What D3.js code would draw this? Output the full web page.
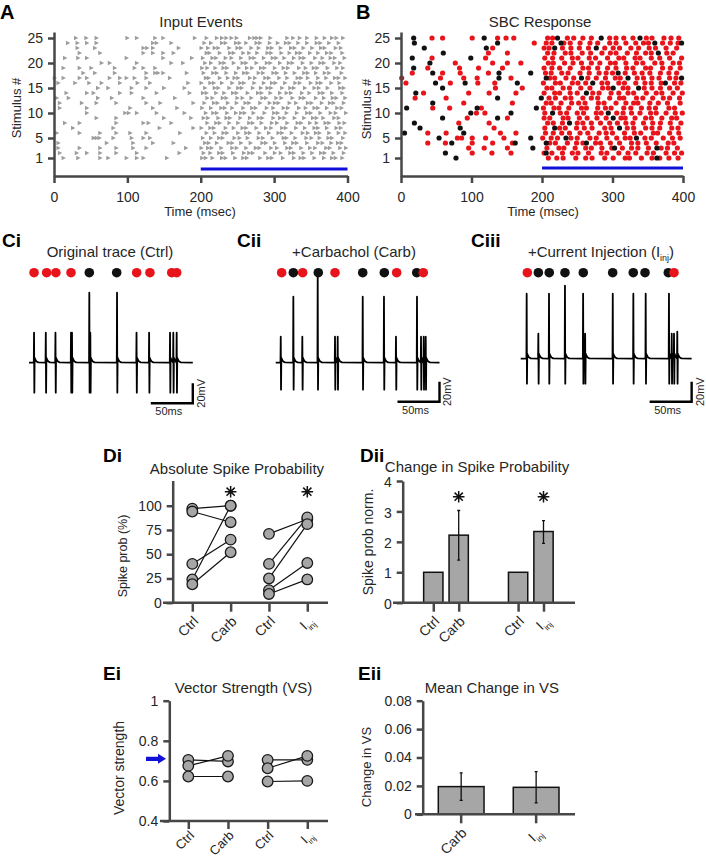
<!DOCTYPE html>
<html>
<head>
<meta charset="utf-8">
<script src="https://cdn.jsdelivr.net/npm/d3@7"></script>
<style>
  body { margin: 0; background: #fff; }
</style>
</head>
<body>
<svg id="fig" width="706" height="859"></svg>
<script>
// ---------- data ----------
const timeTicks = [0, 100, 200, 300, 400];
const stimTicks = [1, 5, 10, 15, 20, 25];
const stimWindow = [200, 400];

// A: input events (ms), one list per stimulus #1..25
const inputEvents = [
  [13,33,63,74,99,113,122,154,202,207,216,229,234,247,258,263,281,292,297,312,327,336,341,355,368,379,384,393],
  [8,31,45,63,85,113,171,204,213,225,230,244,259,266,271,288,301,309,322,327,340,352,364,369,381,395],
  [6,35,63,85,108,126,180,201,210,215,228,243,249,262,275,280,296,304,318,323,337,349,356,371,376,390,398],
  [6,72,108,135,163,206,211,222,238,243,255,268,284,289,301,315,326,331,345,360,366,378,387,392],
  [54,58,62,81,106,122,131,203,214,225,230,246,253,264,279,285,298,313,317,329,344,351,362,374,379,394],
  [4,35,63,85,104,126,172,208,219,231,236,251,262,267,280,293,306,311,324,339,346,357,362,375,388,397],
  [26,81,144,190,201,213,218,234,245,257,262,276,289,296,311,316,330,342,355,360,372,385,391],
  [15,35,85,122,129,160,209,221,226,239,251,266,271,283,297,304,318,332,337,349,358,370,375,389,396],
  [58,85,150,187,204,210,224,235,240,254,267,279,284,299,308,314,328,341,353,358,367,382,388],
  [45,97,102,113,140,178,207,217,222,236,248,255,260,272,287,300,305,317,331,345,350,363,377,384,398],
  [8,45,104,135,168,202,214,228,233,243,258,270,275,290,299,313,319,334,343,355,360,372,386,392],
  [8,38,58,85,126,145,190,205,218,223,237,249,261,266,281,294,301,306,321,330,346,351,365,376,381,395],
  [4,20,60,79,122,165,209,216,230,235,250,257,269,284,289,303,310,325,336,341,357,368,380,385,397],
  [17,45,54,90,106,140,185,203,208,221,232,244,249,264,278,283,295,308,317,323,338,348,362,367,379,393],
  [60,74,106,126,150,178,206,219,224,239,251,256,271,282,291,296,311,322,327,342,355,361,373,390,395],
  [6,29,48,65,90,114,131,183,201,213,218,229,243,254,259,273,286,297,302,315,329,335,350,359,364,378,389],
  [1,13,35,45,76,90,99,110,126,158,207,211,226,237,246,251,267,274,288,293,307,318,332,337,346,360,371,383,388,397],
  [40,56,83,126,138,142,149,181,204,217,222,235,248,259,264,279,285,299,304,316,328,341,346,357,369,375,392],
  [13,35,51,83,110,122,138,202,209,220,231,236,252,263,270,282,287,301,313,319,334,343,354,359,373,386,394],
  [65,76,113,160,176,206,214,227,232,245,257,262,276,290,295,308,320,325,339,351,363,368,382,390],
  [15,33,45,99,149,188,203,216,221,234,242,255,268,273,286,298,303,314,327,336,341,356,366,377,383,396],
  [35,63,122,135,149,163,208,212,226,240,245,258,266,277,291,296,310,321,331,336,349,360,372,378,393],
  [32,56,122,127,135,170,201,210,219,224,239,250,255,269,279,292,297,309,323,328,340,352,364,369,384,391],
  [19,32,45,58,135,140,160,205,214,229,234,248,253,262,276,281,294,305,316,321,333,345,358,363,375,388],
  [30,44,58,100,113,138,149,192,208,222,229,235,242,249,267,273,277,282,295,318,326,335,345,358,369,379,385,394]
];

// B: SBC response times (ms) per stimulus, red and black markers
const respRed = [
  [209,221,230,248,262,271,289,301,318,324,341,356,367,380,393],
  [101,129,156,203,214,229,243,251,266,284,292,309,322,333,349,358,376,388,398],
  [96,118,151,207,224,231,247,262,270,285,299,314,327,336,351,369,378,392],
  [38,63,101,130,158,211,219,236,249,258,276,283,297,310,327,336,348,362,379,387],
  [80,86,101,120,146,201,213,222,241,250,268,277,292,306,318,325,346,355,372,385,396],
  [38,64,141,163,205,216,228,239,254,265,281,291,300,317,331,340,358,364,381,394],
  [132,204,225,233,249,260,271,289,298,321,330,347,356,367,384,393],
  [82,125,208,216,229,250,258,270,283,296,307,319,329,344,357,368,382,397],
  [94,151,203,211,230,237,253,264,278,291,312,318,332,347,355,370,384,391],
  [107,119,204,226,235,250,259,277,284,306,315,327,339,354,362,376,389,399],
  [45,69,114,202,217,224,238,256,263,279,290,298,316,326,341,352,361,380,388],
  [89,158,206,213,227,242,252,261,280,288,305,319,330,336,353,365,378,396],
  [20,64,210,219,233,241,258,270,279,296,310,316,334,343,357,372,381,395],
  [32,96,125,163,203,218,225,240,250,272,281,298,309,322,330,348,362,370,386,399],
  [134,172,207,214,230,239,255,268,286,294,315,322,345,356,368,381,392],
  [7,70,109,133,202,219,226,243,251,262,285,293,309,317,333,346,355,369,388,397],
  [1,56,89,108,156,211,218,234,245,265,277,290,304,311,335,344,356,366,381,390],
  [16,59,84,124,205,213,228,237,254,267,281,291,300,318,331,342,353,368,380,391],
  [38,83,110,144,203,214,225,240,258,266,279,293,305,320,329,347,354,371,382,396],
  [77,130,151,170,209,216,232,244,256,270,282,297,304,319,334,343,360,370,386,395],
  [44,120,204,215,228,243,251,267,276,293,309,316,332,339,355,367,381,398],
  [124,151,208,217,233,241,257,269,285,297,305,321,334,347,355,377,386],
  [130,203,210,229,241,253,266,289,301,310,326,337,352,361,376,391],
  [189,206,214,231,240,254,268,279,296,305,319,333,344,351,371,382,393],
  [44,59,101,137,149,160,208,215,236,245,258,270,296,305,316,329,348,356,373,383,394]
];
const respBlack = [
  [78,363], [63,206], [187,303,363], [72,162,206,263], [54,184,234,334],
  [5,89], [27,84,218,310], [19,239], [59,137,301], [99,156,215,294],
  [8,108,192], [45], [137,199], [21,263], [59,301,337],
  [49,91,165,272,375], [139,206,256,322,398], [45,139,184,308], [18], [41],
  [16,99], [60,365], [33,121,218,277], [19,137,227,360,398], [18,118,222,284,339]
];

// C: example traces (ms, mV above baseline)
const ctrlSpikeT   = [6, 20, 31.5, 50, 51.2, 71.8, 73, 104.8, 128, 143, 167.9, 171.8, 175.8];
const ctrlSpikeAmp = [30, 30, 30, 30, 30, 70, 30, 70, 30, 30, 30, 30, 30];
const ctrlDotT     = [6, 21, 32, 50, 71.8, 104.4, 128.2, 144, 169.9, 175.8];
const ctrlDotSpike = [0, 0, 0, 0, 1, 1, 0, 0, 0, 0];

const carbSpikeT   = [6, 21, 31.7, 50, 70.6, 73.8, 103.6, 128.9, 143.2, 168.2, 173, 176.2, 178.6];
const carbSpikeAmp = [26, 66, 26, 90, 26, 26, 66, 66, 26, 66, 26, 26, 26];
const carbDotT     = [7.1, 21, 32.1, 50.7, 70.6, 103.6, 129.3, 144, 167.9, 175.7];
const carbDotSpike = [0, 1, 0, 1, 0, 1, 1, 0, 1, 0];

const injSpikeT    = [7.1, 21, 33.7, 52.7, 74.3, 76.7, 109.6, 134.1, 148.8, 176.5, 179.8, 182.5, 186.4];
const injSpikeAmp  = [65, 25, 65, 73, 65, 25, 65, 65, 65, 65, 25, 25, 27];
const injDotT      = [7.9, 21, 34, 52.7, 74.5, 109.5, 134, 148, 175.7, 182.5];
const injDotSpike  = [0, 1, 1, 1, 1, 1, 1, 1, 1, 0];

// D: spike probability
const pairLabels = ["Ctrl", "Carb", "Ctrl", "I_inj"];
const probTicks = [0, 25, 50, 75, 100];
const probCtrlA = [97, 94, 40, 24, 19];
const probCarb  = [100, 83, 65, 100, 52];
const probCtrlB = [71, 40, 25, 13, 9];
const probInj   = [86, 88, 81, 41, 24];

const normTicks = [0, 1, 2, 3, 4];
const normMean  = [1, 2.22, 1, 2.34];
const normLo    = [null, 1.40, null, 1.95];
const normHi    = [null, 3.03, null, 2.70];

// E: vector strength
const vsTicks  = [0.4, 0.6, 0.8, 1];
const vsCtrlA  = [0.705, 0.675, 0.622];
const vsCarb   = [0.697, 0.725, 0.622];
const vsCtrlB  = [0.705, 0.663, 0.597];
const vsInj    = [0.705, 0.725, 0.600];
const vsArrow  = 0.71;

const changeLabels = ["Carb", "I_inj"];
const changeTicks  = [0, 0.02, 0.04, 0.06, 0.08];
const changeMean   = [0.0195, 0.019];
const changeLo     = [0.0098, 0.008];
const changeHi     = [0.0292, 0.030];

// ---------- helpers ----------
const fontFam = '"Liberation Sans", Arial, Helvetica, sans-serif';
const axisCol = "#474747";
const textCol = "#262626";
const redCol = "#e8141b";
const blueCol = "#1010d8";
const barFill = "#a6a6a6";

const svg = d3.select("#fig").attr("font-family", fontFam);

function txt(x, y, s, size, opt = {}) {
  const t = svg.append("text")
    .attr("x", x).attr("y", y)
    .attr("font-size", size)
    .attr("fill", opt.fill || textCol)
    .attr("text-anchor", opt.anchor || "middle")
    .text(s);
  if (opt.bold) t.attr("font-weight", "bold");
  if (opt.rotate) t.attr("transform", `rotate(${opt.rotate},${x},${y})`);
  return t;
}

// "I_inj" -> I with subscript
function subText(t, size) {
  const s = t.text();
  if (!s.includes("_")) return;
  const [main, sub] = s.split("_");
  t.text(null);
  t.append("tspan").text(main);
  t.append("tspan").attr("font-size", size * 0.6).attr("dy", size * 0.3).text(sub);
}

function styleAxis(g, size) {
  g.attr("font-family", fontFam).attr("font-size", size);
  g.select(".domain").attr("stroke", axisCol).attr("stroke-width", 2.5);
  g.selectAll(".tick line").attr("stroke", axisCol).attr("stroke-width", 2.5);
  g.selectAll(".tick text").attr("fill", textCol);
}

// rotated category labels for D/E
function rotateLabels(g, size, dy) {
  g.selectAll(".tick text")
    .attr("text-anchor", "end")
    .attr("y", 0).attr("dy", "0.35em")
    .attr("font-size", size)
    .attr("transform", `translate(3,${dy}) rotate(-45)`)
    .each(function () { subText(d3.select(this), size); });
}

// significance asterisk, 8 arms
function star(x, y) {
  const r = 5.8;
  const arms = [0, 45, 90, 135].map(a => {
    const rad = a * Math.PI / 180;
    return `M${x - r * Math.cos(rad)},${y - r * Math.sin(rad)}L${x + r * Math.cos(rad)},${y + r * Math.sin(rad)}`;
  });
  svg.append("path").attr("d", arms.join("")).attr("stroke", "#111").attr("stroke-width", 1.5).attr("fill", "none");
  svg.append("circle").attr("cx", x).attr("cy", y).attr("r", 1.6).attr("fill", "#111");
}

// ---------- A: Input Events ----------
const xA = d3.scaleLinear().domain([0, 400]).range([54, 347.5]);
const stimY = d3.scaleLinear().domain([-2.6, 26.2]).range([176, 32]);

txt(0, 19, "A", 20, { anchor: "start", bold: true, fill: "#000" });
txt(201, 27, "Input Events", 15);

svg.append("line")
  .attr("x1", xA(stimWindow[0])).attr("x2", xA(stimWindow[1]))
  .attr("y1", stimY(-1.2)).attr("y2", stimY(-1.2))
  .attr("stroke", blueCol).attr("stroke-width", 3.2);

const inputPts = inputEvents.flatMap((row, i) => row.map(t => ({ t, s: i + 1 })));
svg.append("g").selectAll("path").data(inputPts).join("path")
  .attr("d", "M-2,-2.3L2.4,0L-2,2.3Z")
  .attr("transform", d => `translate(${xA(d.t)},${stimY(d.s)})`)
  .attr("fill", "#9c9c9c");

svg.append("g").attr("transform", "translate(0,176)")
  .call(d3.axisBottom(xA).tickValues(timeTicks).tickSize(7).tickPadding(9).tickSizeOuter(0))
  .call(styleAxis, 14);
svg.append("g").attr("transform", "translate(54,0)")
  .call(d3.axisLeft(stimY).tickValues(stimTicks).tickSize(6).tickPadding(5).tickSizeOuter(0))
  .call(styleAxis, 14);
txt(200, 216, "Time (msec)", 13);
txt(21, 108, "Stimulus #", 13, { rotate: -90 });

// ---------- B: SBC Response ----------
const xB = d3.scaleLinear().domain([0, 400]).range([401, 683]);

txt(356, 19, "B", 20, { anchor: "start", bold: true, fill: "#000" });
txt(540, 27, "SBC Response", 15);

svg.append("line")
  .attr("x1", xB(stimWindow[0])).attr("x2", xB(stimWindow[1]))
  .attr("y1", stimY(-1.0)).attr("y2", stimY(-1.0))
  .attr("stroke", blueCol).attr("stroke-width", 3.2);

const redPts = respRed.flatMap((row, i) => row.map(t => ({ t, s: i + 1 })));
const blackPts = respBlack.flatMap((row, i) => row.map(t => ({ t, s: i + 1 })));
svg.append("g").selectAll("circle").data(redPts).join("circle")
  .attr("cx", d => xB(d.t)).attr("cy", d => stimY(d.s)).attr("r", 2.6).attr("fill", redCol);
svg.append("g").selectAll("circle").data(blackPts).join("circle")
  .attr("cx", d => xB(d.t)).attr("cy", d => stimY(d.s)).attr("r", 2.6).attr("fill", "#111");

svg.append("g").attr("transform", "translate(0,176)")
  .call(d3.axisBottom(xB).tickValues(timeTicks).tickSize(7).tickPadding(9).tickSizeOuter(0))
  .call(styleAxis, 14);
svg.append("g").attr("transform", "translate(401,0)")
  .call(d3.axisLeft(stimY).tickValues(stimTicks).tickSize(6).tickPadding(5).tickSizeOuter(0))
  .call(styleAxis, 14);
txt(543, 216, "Time (msec)", 13);
txt(371, 109, "Stimulus #", 13, { rotate: -90 });

// ---------- C: traces ----------
function drawTrace(p) {
  const xs = d3.scaleLinear().domain([0, p.dur]).range([p.x0, p.x0 + p.dur * 0.84]);
  const ys = d3.scaleLinear().domain([0, 1]).range([p.base, p.base - 1]);

  txt(p.lx, 246.5, p.label, 19, { anchor: "start", bold: true, fill: "#000" });
  const tt = txt(p.cx, 257, p.title, 15);
  if (p.titleSub) {
    tt.text(null);
    tt.append("tspan").text(p.title);
    tt.append("tspan").attr("font-size", 9).attr("dy", 4).text(p.titleSub);
    tt.append("tspan").attr("dy", -4).text(")");
  }

  // build the voltage trace from spike times
  const pts = [[0, 0]];
  p.spikeT.forEach((t, i) => {
    const next = i < p.spikeT.length - 1 ? p.spikeT[i + 1] - 0.3 : p.dur;
    const shape = [[t - 0.3, 0], [t, p.spikeAmp[i]], [t + 0.35, p.trough], [t + 0.7, 5], [t + 1.6, 3], [t + 3, 1.2], [t + 5, 0.3]];
    shape.forEach((s, k) => { if (k < 3 || s[0] < next) pts.push(s); });
  });
  pts.push([p.dur, 0]);

  svg.append("path").datum(pts)
    .attr("d", d3.line().x(d => xs(d[0])).y(d => ys(d[1])))
    .attr("fill", "none").attr("stroke", "#000").attr("stroke-width", 1.8)
    .attr("stroke-linejoin", "round");

  svg.append("g").selectAll("circle").data(p.dotT.map((t, i) => ({ t, s: p.dotSpike[i] }))).join("circle")
    .attr("cx", d => xs(d.t)).attr("cy", 272.7).attr("r", 4.8)
    .attr("fill", d => d.s ? "#111" : redCol);

  // scale bar 50 ms / 20 mV
  const xe = xs(p.dur), yb = ys(p.barMv);
  svg.append("path")
    .attr("d", `M${xs(p.dur - 50)},${yb}H${xe}V${ys(p.barMv + 20)}`)
    .attr("fill", "none").attr("stroke", "#000").attr("stroke-width", 2.4);
  txt((xs(p.dur - 50) + xe) / 2 - 3, yb + 12, "50ms", 11);
  txt(xe + 12, (yb + ys(p.barMv + 20)) / 2, "20mV", 11, { rotate: -90 });
}

drawTrace({ label: "Ci", lx: 2, cx: 110, title: "Original trace (Ctrl)", x0: 29, dur: 195, base: 362.7,
  spikeT: ctrlSpikeT, spikeAmp: ctrlSpikeAmp, trough: -30, dotT: ctrlDotT, dotSpike: ctrlDotSpike, barMv: -40.6 });
drawTrace({ label: "Cii", lx: 237, cx: 354, title: "+Carbachol (Carb)", x0: 275.7, dur: 195, base: 362.7,
  spikeT: carbSpikeT, spikeAmp: carbSpikeAmp, trough: -27, dotT: carbDotT, dotSpike: carbDotSpike, barMv: -39 });
drawTrace({ label: "Ciii", lx: 471, cx: 601, title: "+Current Injection (I", titleSub: "inj", x0: 520.7, dur: 203.5, base: 358.7,
  spikeT: injSpikeT, spikeAmp: injSpikeAmp, trough: -25, dotT: injDotT, dotSpike: injDotSpike, barMv: -43 });

// ---------- Di: Absolute Spike Probability ----------
const diY = d3.scaleLinear().domain([0, 126]).range([602.7, 480.5]);
const diX = d3.scalePoint().domain(d3.range(4)).range([192.3, 307.3]);

txt(103, 462, "Di", 19, { anchor: "start", bold: true, fill: "#000" });
txt(237, 473.5, "Absolute Spike Probability", 15);

const diGx = svg.append("g").attr("transform", "translate(0,602.7)")
  .call(d3.axisBottom(diX).tickFormat(i => pairLabels[i]).tickSize(9).tickSizeOuter(0))
  .call(styleAxis, 14);
diGx.select(".domain").attr("d", "M163,0H328");
rotateLabels(diGx, 14, 16);
svg.append("g").attr("transform", "translate(172.7,0)")
  .call(d3.axisLeft(diY).tickValues(probTicks).tickSize(6).tickPadding(5).tickSizeOuter(0))
  .call(styleAxis, 14);
txt(127, 556, "Spike prob (%)", 12.5, { rotate: -90 });

const diPairs = [
  ...probCtrlA.map((v, i) => ({ a: 0, va: v, b: 1, vb: probCarb[i] })),
  ...probCtrlB.map((v, i) => ({ a: 2, va: v, b: 3, vb: probInj[i] }))
];
svg.append("g").selectAll("line").data(diPairs).join("line")
  .attr("x1", d => diX(d.a)).attr("y1", d => diY(d.va))
  .attr("x2", d => diX(d.b)).attr("y2", d => diY(d.vb))
  .attr("stroke", "#111").attr("stroke-width", 1.2);
const diDots = diPairs.flatMap(d => [{ x: d.a, v: d.va }, { x: d.b, v: d.vb }]);
svg.append("g").selectAll("circle").data(diDots).join("circle")
  .attr("cx", d => diX(d.x)).attr("cy", d => diY(d.v)).attr("r", 5.3)
  .attr("fill", barFill).attr("stroke", "#1a1a1a").attr("stroke-width", 1.3);
star(diX(1), 491.7);
star(diX(3), 491.7);

// ---------- Dii: Change in Spike Probability ----------
const diiY = d3.scaleLinear().domain([0, 4]).range([602.7, 481]);
const diiGroup = d3.scaleBand().domain([0, 1]).range([420.6, 556.2]).paddingInner(0.401).paddingOuter(0);
const diiInner = d3.scaleBand().domain([0, 1]).range([0, diiGroup.bandwidth()]).paddingInner(0.24).paddingOuter(0.12);
const diiXc = i => diiGroup(Math.floor(i / 2)) + diiInner(i % 2) + diiInner.bandwidth() / 2;

txt(360, 462, "Dii", 19, { anchor: "start", bold: true, fill: "#000" });
txt(477, 471.5, "Change in Spike Probability", 15);

svg.append("g").selectAll("rect").data(normMean).join("rect")
  .attr("x", (d, i) => diiXc(i) - diiInner.bandwidth() / 2)
  .attr("y", d => diiY(d))
  .attr("width", diiInner.bandwidth())
  .attr("height", d => diiY(0) - diiY(d))
  .attr("fill", barFill).attr("stroke", "#111").attr("stroke-width", 1.5);
const diiErr = normMean.map((m, i) => ({ i, lo: normLo[i], hi: normHi[i] })).filter(d => d.lo != null);
svg.append("g").selectAll("path").data(diiErr).join("path")
  .attr("d", d => `M${diiXc(d.i)},${diiY(d.lo)}V${diiY(d.hi)}M${diiXc(d.i) - 1.5},${diiY(d.lo)}h3M${diiXc(d.i) - 1.5},${diiY(d.hi)}h3`)
  .attr("stroke", "#111").attr("stroke-width", 1.3);

const diiXpos = d3.scaleOrdinal().domain(d3.range(4)).range(d3.range(4).map(diiXc));
const diiGx = svg.append("g").attr("transform", "translate(0,602.7)")
  .call(d3.axisBottom(diiXpos).tickFormat(i => pairLabels[i]).tickSize(9).tickSizeOuter(0))
  .call(styleAxis, 14);
diiGx.select(".domain").attr("d", "M393,0H575");
rotateLabels(diiGx, 14, 16);
svg.append("g").attr("transform", "translate(402.7,0)")
  .call(d3.axisLeft(diiY).tickValues(normTicks).tickSize(6).tickPadding(5).tickSizeOuter(0)
    .tickFormat(d3.format("d")))
  .call(styleAxis, 14)
  .call(g => g.selectAll(".tick text").attr("dy", "0.4em"));
txt(373, 542, "Spike prob norm.", 14, { rotate: -90 });
star(diiXc(1), 496.7);
star(diiXc(3), 496.7);

// ---------- Ei: Vector Strength ----------
const eiY = d3.scaleLinear().domain([0.4, 1]).range([821, 700.7]);
const eiX = d3.scalePoint().domain(d3.range(4)).range([188.3, 307.3]);

txt(103, 680, "Ei", 19, { anchor: "start", bold: true, fill: "#000" });
txt(243.5, 693, "Vector Strength (VS)", 15);

const eiGx = svg.append("g").attr("transform", "translate(0,821)")
  .call(d3.axisBottom(eiX).tickFormat(i => pairLabels[i]).tickSize(8).tickSizeOuter(0))
  .call(styleAxis, 14);
eiGx.select(".domain").attr("d", "M160,0H328");
rotateLabels(eiGx, 13, 12);
svg.append("g").attr("transform", "translate(169.3,0)")
  .call(d3.axisLeft(eiY).tickValues(vsTicks).tickSize(6).tickPadding(5).tickSizeOuter(0)
    .tickFormat(d => d === 1 ? "1" : d3.format(".1f")(d)))
  .call(styleAxis, 14);
txt(124, 768, "Vector strength", 14, { rotate: -90 });

const eiPairs = [
  ...vsCtrlA.map((v, i) => ({ a: 0, va: v, b: 1, vb: vsCarb[i] })),
  ...vsCtrlB.map((v, i) => ({ a: 2, va: v, b: 3, vb: vsInj[i] }))
];
svg.append("g").selectAll("line").data(eiPairs).join("line")
  .attr("x1", d => eiX(d.a)).attr("y1", d => eiY(d.va))
  .attr("x2", d => eiX(d.b)).attr("y2", d => eiY(d.vb))
  .attr("stroke", "#111").attr("stroke-width", 1.2);
svg.append("g").selectAll("circle").data(eiPairs.flatMap(d => [{ x: d.a, v: d.va }, { x: d.b, v: d.vb }])).join("circle")
  .attr("cx", d => eiX(d.x)).attr("cy", d => eiY(d.v)).attr("r", 5.3)
  .attr("fill", barFill).attr("stroke", "#1a1a1a").attr("stroke-width", 1.3);

const ay = eiY(vsArrow);
svg.append("path")
  .attr("d", `M146,${ay - 2.2}H158V${ay - 5}L166,${ay}L158,${ay + 5}V${ay + 2.2}H146Z`)
  .attr("fill", blueCol);

// ---------- Eii: Mean Change in VS ----------
const eiiY = d3.scaleLinear().domain([0, 0.08]).range([814.3, 700.7]);
const eiiX = d3.scaleBand().domain(changeLabels).range([438.3, 559]).paddingInner(0.39).paddingOuter(0);

txt(358, 680, "Eii", 19, { anchor: "start", bold: true, fill: "#000" });
txt(492, 693, "Mean Change in VS", 15);

svg.append("g").selectAll("rect").data(changeLabels).join("rect")
  .attr("x", d => eiiX(d))
  .attr("y", (d, i) => eiiY(changeMean[i]))
  .attr("width", eiiX.bandwidth())
  .attr("height", (d, i) => eiiY(0) - eiiY(changeMean[i]))
  .attr("fill", barFill).attr("stroke", "#111").attr("stroke-width", 1.5);
svg.append("g").selectAll("path").data(changeLabels).join("path")
  .attr("d", (d, i) => {
    const cx = eiiX(d) + eiiX.bandwidth() / 2;
    return `M${cx},${eiiY(changeLo[i])}V${eiiY(changeHi[i])}M${cx - 1.5},${eiiY(changeLo[i])}h3M${cx - 1.5},${eiiY(changeHi[i])}h3`;
  })
  .attr("stroke", "#111").attr("stroke-width", 1.3);

const eiiGx = svg.append("g").attr("transform", "translate(0,814.3)")
  .call(d3.axisBottom(eiiX).tickSize(9).tickSizeOuter(0))
  .call(styleAxis, 14);
eiiGx.select(".domain").attr("d", "M415,0H575");
rotateLabels(eiiGx, 14, 16);
svg.append("g").attr("transform", "translate(422.7,0)")
  .call(d3.axisLeft(eiiY).tickValues(changeTicks).tickSize(6).tickPadding(5).tickSizeOuter(0)
    .tickFormat(d => d === 0 ? "0" : d3.format(".2f")(d)))
  .call(styleAxis, 14);
txt(371, 767, "Change in VS", 13, { rotate: -90 });
</script>
</body>
</html>
